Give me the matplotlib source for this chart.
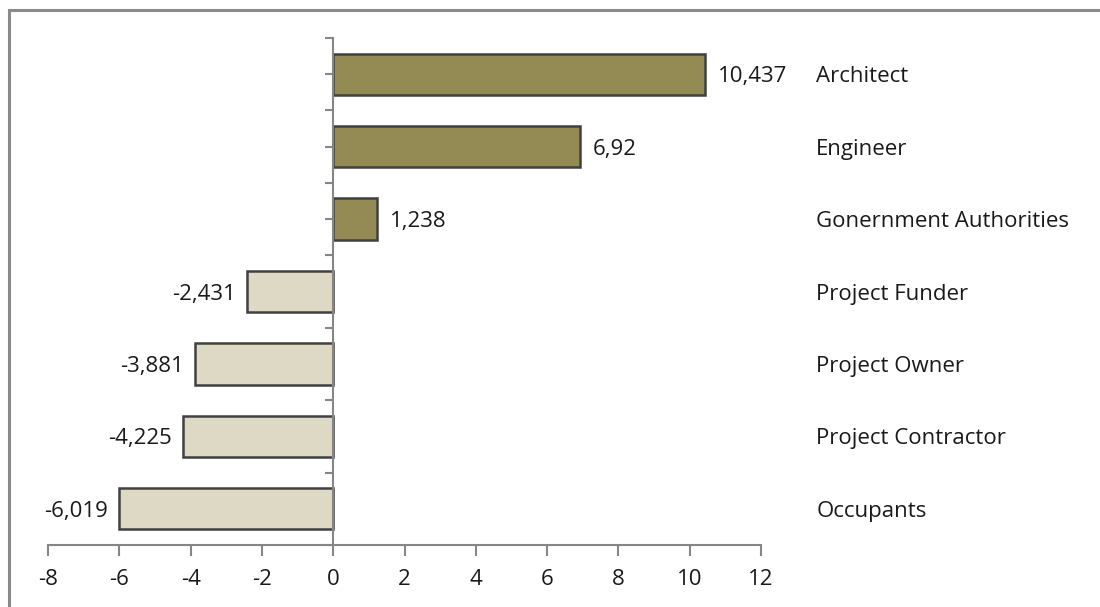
import numpy as np
import matplotlib
matplotlib.use("Agg")
import matplotlib.pyplot as plt
from matplotlib.lines import Line2D

# stakeholder scores
categories = ["Architect", "Engineer", "Gonernment Authorities", "Project Funder",
              "Project Owner", "Project Contractor", "Occupants"]
values = [10.437, 6.92, 1.238, -2.431, -3.881, -4.225, -6.019]
xticks = [-8, -6, -4, -2, 0, 2, 4, 6, 8, 10, 12]

plt.rcParams['font.family'] = ['Open Sans', 'DejaVu Sans']
FS = 16

W, H = 1100, 607
fig = plt.figure(figsize=(W / 100, H / 100), dpi=100)
ax = fig.add_axes([48 / W, (H - 545) / H, 713 / W, 507 / H])

pos_col = '#948A54'
neg_col = '#DDD9C4'
edge = '#404040'
axis_col = '#868686'

y = np.arange(len(categories))
colors = [pos_col if v >= 0 else neg_col for v in values]
ax.barh(y, values, height=0.57, color=colors, edgecolor=edge, linewidth=1.8, zorder=2)

ax.set_xlim(-8, 12)
ax.set_ylim(len(categories) - 0.5, -0.5)

# value labels next to bars, category names on the right
for yi, v, name in zip(y, values, categories):
    txt = f"{v:g}".replace('.', ',')
    if v >= 0:
        ax.text(v + 0.36, yi, txt, ha='left', va='center_baseline', fontsize=FS, color='#1a1a1a')
    else:
        ax.text(v - 0.3, yi, txt, ha='right', va='center_baseline', fontsize=FS, color='#1a1a1a')
    ax.text(13.55, yi, name, ha='left', va='center_baseline', fontsize=FS, color='#1a1a1a',
            clip_on=False)

for s in ['top', 'right']:
    ax.spines[s].set_visible(False)
ax.spines['left'].set_position(('data', 0))
ax.spines['left'].set_color(axis_col)
ax.spines['left'].set_linewidth(1.5)
ax.spines['left'].set_zorder(3)
ax.spines['bottom'].set_color(axis_col)
ax.spines['bottom'].set_linewidth(1.5)

ax.set_xticks(xticks)
ax.set_xticklabels([str(t) for t in xticks], fontsize=FS, color='#1a1a1a')
ax.tick_params(axis='x', direction='out', length=8, width=1.5, color=axis_col, pad=9)
ax.set_yticks(np.arange(-0.5, len(categories), 0.5))
ax.set_yticklabels([])
ax.tick_params(axis='y', direction='out', length=6, width=1.5, color=axis_col)

# outer chart frame (only top and left edges visible in the crop)
fig.add_artist(Line2D([8.5 / W, 1.0], [1 - 9.5 / H, 1 - 9.5 / H], color='#8a8a8a', lw=2.2))
fig.add_artist(Line2D([8.5 / W, 8.5 / W], [0, 1 - 9.5 / H], color='#8a8a8a', lw=2.2))

fig.savefig("out.png", dpi=100)
